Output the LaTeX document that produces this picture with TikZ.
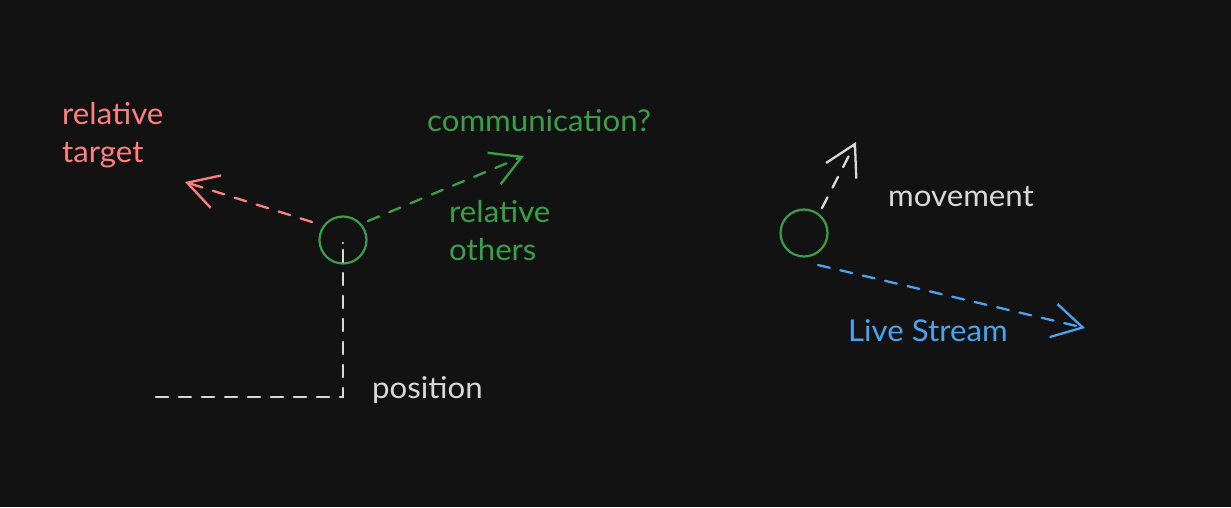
\documentclass[tikz,border=0pt]{standalone}
\usepackage{fontspec}
\setmainfont{Lato}[FakeStretch=1.04]
\usetikzlibrary{arrows.meta}
\definecolor{bgc}{HTML}{121212}
\definecolor{redc}{HTML}{FF8080}
\definecolor{greenc}{HTML}{38A048}
\definecolor{whitec}{HTML}{D8D8D8}
\definecolor{bluec}{HTML}{4AA3F0}
\tikzset{
  lbl/.style={anchor=base west, inner sep=0pt, font=\fontsize{30}{38}\selectfont, align=left},
  dot/.style={circle, draw=greenc, line width=2.2pt, minimum size=47pt, inner sep=0pt},
  dline/.style={line width=2.3pt, dash pattern=on 12pt off 11pt, line cap=round},
  tip/.style={-{Straight Barb[length=30pt,width=34pt,line width=2.3pt]}}
}
\begin{document}
\begin{tikzpicture}[x=1pt,y=-1pt]
\fill[bgc] (0,0) rectangle (1231,507);
\useasboundingbox (0,0) rectangle (1231,507);
% left agent
\node[dot] (c1) at (343,240) {};
\fill[whitec] (343,243) circle (1.2pt);
\coordinate (r0) at (312,222);
\coordinate (r1) at (185,182);
\coordinate (g0) at (368,221);
\coordinate (g1) at (524,156);
\coordinate (p0) at (343,250);
\coordinate (p1) at (343,397);
\coordinate (p2) at (153,397);
\draw[dline, redc, tip] (r0) -- (r1);
\draw[dline, greenc, tip] (g0) -- (g1);
\draw[dline, whitec] (p0) -- (p1) -- (p2);
\node[lbl, text=redc] (t1) at (62,162) {relative\\target};
\node[lbl, text=greenc] (t2) at (427,131) {communication?};
\node[lbl, text=greenc] (t3) at (449,260) {relative\\others};
\node[lbl, text=whitec] (t4) at (372,398) {position};
% right agent
\node[dot] (c2) at (804,233) {};
\coordinate (m0) at (822,208);
\coordinate (m1) at (856,142);
\coordinate (l0) at (818,265);
\coordinate (l1) at (1085,328);
\draw[dline, whitec, tip] (m0) -- (m1);
\draw[dline, bluec, tip] (l0) -- (l1);
\node[lbl, text=whitec] (t5) at (888,206) {movement};
\node[lbl, text=bluec] (t6) at (848,341) {Live Stream};
\end{tikzpicture}
\end{document}
